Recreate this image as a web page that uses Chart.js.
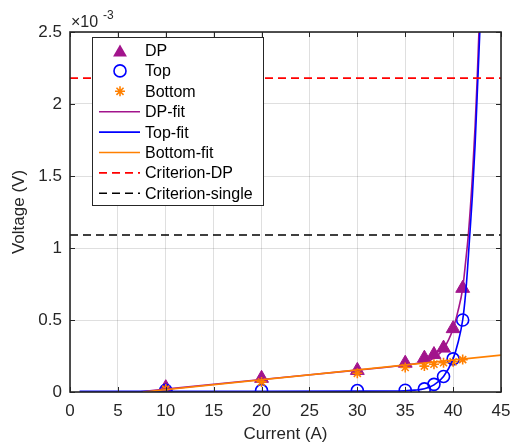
<!DOCTYPE html>
<html>
<head>
<meta charset="utf-8">
<script src="https://cdn.jsdelivr.net/npm/chart.js@4/dist/chart.umd.min.js"></script>
<style>
    body { margin: 0; background: #fff; }
    canvas { display: block; }
</style>
</head>
<body>
<canvas id="chart" width="510" height="445"></canvas>
<script>
// measured points (voltage in units of 1e-3 V)
const currentPts = [10, 20, 30, 35, 37, 38, 39, 40, 41];
const dpVolt = [0.03, 0.095, 0.15, 0.2, 0.235, 0.26, 0.305, 0.44, 0.72];
const topVolt = [0.012, 0.01, 0.01, 0.012, 0.022, 0.053, 0.108, 0.23, 0.5];
const bottomVolt = [0.02, 0.07, 0.13, 0.17, 0.18, 0.193, 0.203, 0.21, 0.225];

// fitted curves
const dpFitI = [7.1, 10, 20, 30, 35, 37, 38, 39, 40, 40.5, 41, 41.3, 41.6, 42, 42.3, 42.5, 42.75];
const dpFitV = [0, 0.02, 0.087, 0.152, 0.187, 0.21, 0.235, 0.3, 0.44, 0.56, 0.72, 0.9, 1.1, 1.48, 1.85, 2.15, 2.6];
const topFitI = [1, 10, 20, 30, 35, 36, 37, 38, 39, 40, 40.5, 41, 41.3, 41.5, 41.7, 42, 42.3, 42.55, 42.85];
const topFitV = [0.005, 0.005, 0.005, 0.006, 0.009, 0.013, 0.022, 0.05, 0.108, 0.23, 0.34, 0.5, 0.68, 0.85, 1.05, 1.35, 1.72, 2.12, 2.6];
const bottomFitI = [7.6, 45];
const bottomFitV = [0, 0.256];

// criterion lines
const critI = [0, 45];
const critDP = [2.18, 2.18];
const critSingle = [1.09, 1.09];

const xTicks = [0, 45, 5];
const yTicks = [0, 2.5, 0.5];

const magenta = '#a2148c';
const blue = '#0000ff';
const orange = '#ff8000';
const axisColor = '#262626';
const fontFamily = '"Liberation Sans", Arial, Helvetica, sans-serif';

const pts = (xs, ys) => xs.map((x, i) => ({ x: x, y: ys[i] }));

const datasets = [
    { label: 'DP', data: pts(currentPts, dpVolt), showLine: false, pointStyle: 'triangle', pointRadius: 8,
      backgroundColor: magenta, borderColor: magenta, pointBorderWidth: 1, legendKind: 'tri' },
    { label: 'Top', data: pts(currentPts, topVolt), showLine: false, pointStyle: 'circle', pointRadius: 6,
      backgroundColor: 'rgba(0,0,0,0)', borderColor: blue, pointBorderWidth: 1.6, legendKind: 'circle' },
    { label: 'Bottom', data: pts(currentPts, bottomVolt), showLine: false, pointStyle: 'star', pointRadius: 5,
      backgroundColor: orange, borderColor: orange, pointBorderWidth: 1.6, legendKind: 'star' },
    { label: 'DP-fit', data: pts(dpFitI, dpFitV), showLine: true, pointRadius: 0, borderColor: magenta,
      borderWidth: 1.6, cubicInterpolationMode: 'monotone', legendKind: 'line' },
    { label: 'Top-fit', data: pts(topFitI, topFitV), showLine: true, pointRadius: 0, borderColor: blue,
      borderWidth: 1.6, cubicInterpolationMode: 'monotone', legendKind: 'line' },
    { label: 'Bottom-fit', data: pts(bottomFitI, bottomFitV), showLine: true, pointRadius: 0, borderColor: orange,
      borderWidth: 1.6, legendKind: 'line' },
    { label: 'Criterion-DP', data: pts(critI, critDP), showLine: true, pointRadius: 0, borderColor: '#ff0000',
      borderWidth: 1.6, borderDash: [8, 5], legendKind: 'line' },
    { label: 'Criterion-single', data: pts(critI, critSingle), showLine: true, pointRadius: 0, borderColor: '#000000',
      borderWidth: 1.6, borderDash: [8, 5], legendKind: 'line' }
];
// later series on top, like the original plot
datasets.forEach((d, i) => { d.order = datasets.length - i; });

const drawMarker = (ctx, kind, x, y, color) => {
    ctx.save();
    ctx.strokeStyle = color;
    ctx.fillStyle = color;
    ctx.setLineDash([]);
    ctx.beginPath();
    if (kind === 'tri') {
        const r = 8;
        const cy = y + r / 4;
        ctx.moveTo(x, cy - r);
        ctx.lineTo(x + r * Math.sqrt(3) / 2, cy + r / 2);
        ctx.lineTo(x - r * Math.sqrt(3) / 2, cy + r / 2);
        ctx.closePath();
        ctx.fill();
    } else if (kind === 'circle') {
        ctx.lineWidth = 1.6;
        ctx.arc(x, y, 6, 0, Math.PI * 2);
        ctx.stroke();
    } else if (kind === 'star') {
        ctx.lineWidth = 1.6;
        for (let k = 0; k < 4; k++) {
            const a = k * Math.PI / 4;
            ctx.moveTo(x - 5 * Math.cos(a), y - 5 * Math.sin(a));
            ctx.lineTo(x + 5 * Math.cos(a), y + 5 * Math.sin(a));
        }
        ctx.stroke();
    }
    ctx.restore();
};

const matlabAxes = {
    id: 'matlabAxes',
    afterDatasetsDraw(chart) {
        const { ctx, chartArea: a, scales } = chart;
        ctx.save();
        ctx.strokeStyle = axisColor;
        ctx.lineWidth = 1;
        ctx.beginPath();
        const tl = 5;
        for (let v = xTicks[0]; v <= xTicks[1]; v += xTicks[2]) {
            const px = Math.round(scales.x.getPixelForValue(v)) + 0.5;
            ctx.moveTo(px, a.bottom); ctx.lineTo(px, a.bottom - tl);
            ctx.moveTo(px, a.top); ctx.lineTo(px, a.top + tl);
        }
        for (let v = yTicks[0]; v <= yTicks[1] + 1e-9; v += yTicks[2]) {
            const py = Math.round(scales.y.getPixelForValue(v)) + 0.5;
            ctx.moveTo(a.left, py); ctx.lineTo(a.left + tl, py);
            ctx.moveTo(a.right, py); ctx.lineTo(a.right - tl, py);
        }
        ctx.stroke();
        ctx.lineWidth = 1.6;
        ctx.strokeRect(a.left, a.top, a.right - a.left, a.bottom - a.top);

        // exponent label
        ctx.fillStyle = axisColor;
        ctx.textBaseline = 'alphabetic';
        ctx.textAlign = 'left';
        ctx.font = '16px ' + fontFamily;
        ctx.fillText('\u00d710', 71, 27);
        ctx.font = '12px ' + fontFamily;
        ctx.fillText('-3', 103, 19);

        // legend box
        const lx = 92.5, ly = 37.5, lw = 171, lh = 168;
        ctx.fillStyle = '#ffffff';
        ctx.fillRect(lx, ly, lw, lh);
        ctx.strokeStyle = axisColor;
        ctx.lineWidth = 1;
        ctx.strokeRect(lx, ly, lw, lh);
        ctx.font = '16px ' + fontFamily;
        ctx.textBaseline = 'middle';
        chart.data.datasets.forEach((d, i) => {
            const y = 50.5 + i * 20.4;
            if (d.legendKind === 'line') {
                ctx.save();
                ctx.strokeStyle = d.borderColor;
                ctx.lineWidth = 1.6;
                ctx.setLineDash(d.borderDash || []);
                ctx.beginPath();
                ctx.moveTo(99, y);
                ctx.lineTo(140, y);
                ctx.stroke();
                ctx.restore();
            } else {
                drawMarker(ctx, d.legendKind, 120, y, d.borderColor);
            }
            ctx.fillStyle = '#000000';
            ctx.fillText(d.label, 145, y + 1);
        });
        ctx.restore();
    }
};

const tickFont = { family: fontFamily, size: 17 };

new Chart(document.getElementById('chart').getContext('2d'), {
    type: 'scatter',
    data: { datasets: datasets },
    options: {
        responsive: false,
        animation: false,
        devicePixelRatio: 1,
        layout: { padding: { left: 0, right: 8, top: 32, bottom: 0 } },
        plugins: {
            legend: { display: false },
            tooltip: { enabled: false }
        },
        scales: {
            x: {
                type: 'linear',
                min: xTicks[0],
                max: xTicks[1],
                ticks: { stepSize: xTicks[2], padding: 9, color: axisColor, font: tickFont, maxRotation: 0, autoSkip: false },
                grid: { color: 'rgba(38,38,38,0.15)', lineWidth: 1, drawTicks: false },
                border: { display: false },
                title: { display: true, text: 'Current (A)', color: axisColor, font: tickFont, padding: { top: 0, bottom: 0 } },
                afterFit: (s) => { s.height = 53; s.paddingLeft = 0; s.paddingRight = 0; }
            },
            y: {
                type: 'linear',
                min: yTicks[0],
                max: yTicks[1],
                ticks: { stepSize: yTicks[2], padding: 8, color: axisColor, font: tickFont,
                         callback: (v) => String(Math.round(v * 10) / 10) },
                grid: { color: 'rgba(38,38,38,0.15)', lineWidth: 1, drawTicks: false },
                border: { display: false },
                title: { display: true, text: 'Voltage (V)', color: axisColor, font: tickFont, padding: { top: 9, bottom: 0 } },
                afterFit: (s) => { s.width = 70; s.paddingTop = 0; s.paddingBottom = 0; }
            }
        }
    },
    plugins: [matlabAxes]
});
</script>
</body>
</html>
